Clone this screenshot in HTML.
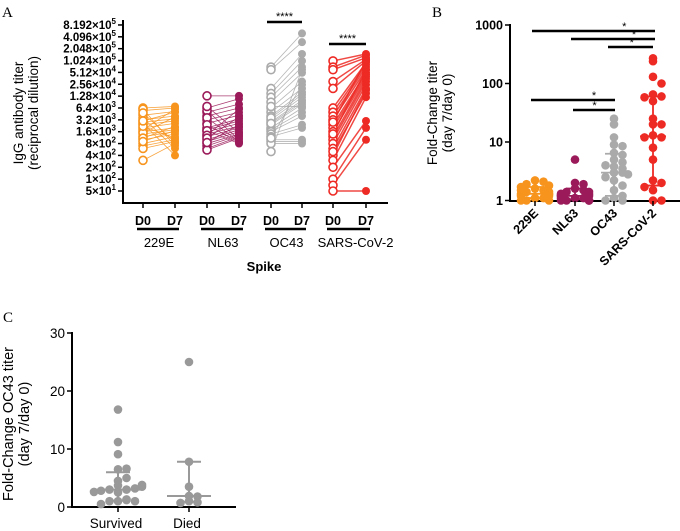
<!DOCTYPE html>
<html><head><meta charset="utf-8"><style>
html,body{margin:0;padding:0;background:#fff;}
svg{display:block;font-family:"Liberation Sans",Arial,sans-serif;}
</style></head><body>
<svg id="fig" width="680" height="531" viewBox="0 0 680 531">
<text x="2" y="17" font-family="Liberation Serif" font-size="15">A</text>
<text x="432" y="17" font-family="Liberation Serif" font-size="15">B</text>
<text x="3" y="322" font-family="Liberation Serif" font-size="15">C</text>
<g id="A"></g>
<g id="B"></g>
<g id="C"></g>
</svg>
<script>
// ---------- Panel A data ----------
const aGroups = ["229E","NL63","OC43","SARS-CoV-2"];
const aTickExp = ["8.192","4.096","2.048","1.024","5.12","2.56","1.28","6.4","3.2","1.6","8","4","2","1","5"];
const aTickPow = ["5","5","5","5","4","4","4","3","3","3","2","2","2","2","1"];
const a229eD0 = [6400,5500,4200,3200,2800,2400,2000,1600,1400,1200,1000,800,700,600,300,6000,3600,2600,1800,1500,1100,900,2200,4800,3000];
const a229eD7 = [7000,6400,5200,4000,3400,3000,2600,2000,1800,1600,1400,1200,1000,900,800,700,600,400,6000,3800,2200,1700,1100,850,5000];
const aNl63D0 = [13000,6400,5000,4000,3200,2600,2000,1800,1600,1400,1200,1000,900,800,700,600,550,5500,3600,2400,1700,1300,1100,850,7000];
const aNl63D7 = [13000,11000,8000,6400,5000,4200,3400,3000,2600,2200,2000,1800,1600,1400,1300,1200,1100,1000,900,850,800,6000,3800,2400,1500];
const aOc43D0 = [70000,60000,20000,15000,12000,9000,6400,5000,4000,3200,2800,2400,2000,1800,1600,1400,1200,1000,900,800,500,3600,2600,7000,1100];
const aOc43D7 = [500000,300000,150000,100000,70000,50000,30000,20000,16000,12000,10000,8000,6400,5000,4000,2400,2000,1000,900,800,60000,14000,9000,7000,25000];
const aSarsD0 = [100000,70000,60000,30000,20000,6400,5000,4000,3200,2400,2000,1600,1200,1000,800,600,400,300,200,100,70,50,2800,1400,500];
const aSarsD7 = [150000,140000,120000,110000,100000,90000,80000,70000,60000,50000,45000,40000,35000,30000,25000,20000,18000,12000,3000,2000,1000,50,100000,60000,15000];
const aD0 = [a229eD0,aNl63D0,aOc43D0,aSarsD0];
const aD7 = [a229eD7,aNl63D7,aOc43D7,aSarsD7];
// ---------- Panel B data ----------
const bGroups = ["229E","NL63","OC43","SARS-CoV-2"];
const bTicks = [1,10,100,1000];
const b229e = [2.2,2.1,1.9,1.8,1.7,1.6,1.5,1.4,1.4,1.3,1.3,1.2,1.2,1.1,1.1,1.0,1.0,1.0,1.5,1.3];
const bNl63 = [5.0,2.0,1.9,1.6,1.5,1.4,1.3,1.3,1.2,1.2,1.1,1.1,1.0,1.0,1.0,1.0,1.4,1.2,1.1,1.0];
const bOc43 = [25,20,12,9,8.5,6.5,6,5,4.5,3.8,3.5,3,3,2.5,2.2,1.8,1.5,1.2,1.1,1.0,1.0,4,2.8];
const bSars = [270,240,130,100,65,60,58,50,25,20,20,13,12,12,8,5,2.2,2,1.7,1.5,1,1];
const bMedian = [1.3,1.2,3.0,12.5];
const bQ1 = [1.1,1.05,1.2,1.8];
const bQ3 = [1.7,1.6,6.3,60];
// ---------- Panel C data ----------
const cGroups = ["Survived","Died"];
const cTicks = [0,10,20,30];
const cSurvived = [16.8,11.2,9.1,6.5,6.6,4.5,5,3.7,3,3,3.2,2.5,2.8,3.5,2.6,3.8,1,1.2,1.3,1,1,0.5];
const cDied = [25,7.8,3.5,1.9,1.8,1,0.8,0.7];
const cMedian = [3.0,1.9];
const cQ1 = [1.1,0.9];
const cQ3 = [6.0,7.8];

const NS="http://www.w3.org/2000/svg";
function mk(parent,tag,attrs,txt){const e=document.createElementNS(NS,tag);for(const k in attrs)e.setAttribute(k,attrs[k]);if(txt!=null)e.textContent=txt;parent.appendChild(e);return e;}
const colors=["#f7941d","#9b1b5a","#aaaaaa","#ee2a24"];

// ===== Panel A =====
(function(){
const g=document.getElementById('A');
const yA=v=>191-Math.log2(v/50)*11.86;
const xs=[[143,175],[207,239],[271,302],[333,366]];
let ax=mk(g,'path',{d:'M123,20V203H388',fill:'none',stroke:'#000','stroke-width':2});


for(let i=0;i<aTickExp.length;i++){
 const v=50*Math.pow(2,14-i); const y=yA(v);
 const t=mk(g,'line',{x1:118,x2:123,y1:y,y2:y,stroke:'#000','stroke-width':1.5});
 
 
 const tx=mk(g,'text',{x:116,y:y+4,'text-anchor':'end','font-size':11.5,'font-weight':'bold'});
 
 
 const a=document.createElementNS(NS,'tspan');a.textContent=aTickExp[i]+"×10";tx.appendChild(a);
 const b=document.createElementNS(NS,'tspan');b.setAttribute('dy','-5');b.setAttribute('font-size','8');b.textContent=aTickPow[i];tx.appendChild(b);
}
for(let gi=0;gi<4;gi++){
 const c=colors[gi];const[x0,x1]=xs[gi];
 const sg=mk(g,'g',{});
 
 
 for(let i=0;i<aD0[gi].length;i++){
  const l=mk(sg,'line',{x1:x0,y1:yA(aD0[gi][i]),x2:x1,y2:yA(aD7[gi][i]),stroke:c,'stroke-width':gi==3?1.5:0.8,opacity:0.85});
  
  
 }
 for(let i=0;i<aD0[gi].length;i++){
  const p=mk(sg,'circle',{cx:x0,cy:yA(aD0[gi][i]),r:4,fill:'#fff',stroke:c,'stroke-width':1.6});
  
  
  const q=mk(sg,'circle',{cx:x1,cy:yA(aD7[gi][i]),r:4,fill:c});
  
  
 }
 const t0=mk(g,'line',{x1:x0,x2:x0,y1:203,y2:208,stroke:'#000','stroke-width':1.5});
 const t1=mk(g,'line',{x1:x1,x2:x1,y1:203,y2:208,stroke:'#000','stroke-width':1.5});
 const d0=mk(g,'text',{x:x0,y:225,'text-anchor':'middle','font-size':12.5,'font-weight':'bold'},'D0');
 const d7=mk(g,'text',{x:x1,y:225,'text-anchor':'middle','font-size':12.5,'font-weight':'bold'},'D7');
 const ul=mk(g,'line',{x1:x0-6,x2:x1+4,y1:229,y2:229,stroke:'#000','stroke-width':2.5});
 const gn=mk(g,'text',{x:(x0+x1)/2+(gi==3?6:0),y:247,'text-anchor':'middle','font-size':13},aGroups[gi]);
}
[[2,22],[3,44]].forEach(([gi,y])=>{
 const[x0,x1]=xs[gi];
 const s=mk(g,'line',{x1:x0-4,x2:x1,y1:y,y2:y,stroke:'#000','stroke-width':2.5});
 const st=mk(g,'text',{x:(x0+x1)/2-2,y:y-2,'text-anchor':'middle','font-size':11},'****');
});
const sp=mk(g,'text',{x:264,y:271,'text-anchor':'middle','font-size':13,'font-weight':'bold'},'Spike');
const yt=mk(g,'text',{transform:'translate(23,113) rotate(-90)','text-anchor':'middle','font-size':13.5},'IgG antibody titer');
const yt2=mk(g,'text',{transform:'translate(38,113) rotate(-90)','text-anchor':'middle','font-size':13.5},'(reciprocal dilution)');
})();

// jitter helper: spread points with similar values
function jitter(vals,scale,width){
 const out=[];const used={};
 vals.forEach((v,i)=>{const k=Math.round(scale(v)/8);used[k]=(used[k]||0)+1;const n=used[k]-1;const off=(n%2?1:-1)*Math.ceil(n/2)*8.5;out.push(Math.max(-width,Math.min(width,off)));});
 return out;
}

// ===== Panel B =====
(function(){
const g=document.getElementById('B');
const yB=v=>200.5-Math.log10(v)*58.5;
const xs=[535,575,614,653];
const data=[b229e,bNl63,bOc43,bSars];
const ax=mk(g,'path',{d:'M510,24V201H680',fill:'none',stroke:'#000','stroke-width':2});
bTicks.forEach(v=>{const y=yB(v);
 const t=mk(g,'line',{x1:505,x2:510,y1:y,y2:y,stroke:'#000','stroke-width':1.5});
 const tx=mk(g,'text',{x:503,y:y+4.5,'text-anchor':'end','font-size':12.5,'font-weight':'bold'},String(v));
});
for(let gi=0;gi<4;gi++){
 const x=xs[gi],c=colors[gi];
 const sg=mk(g,'g',{});
 const off=jitter(data[gi],yB,14);
 data[gi].forEach((v,i)=>{const p=mk(sg,'circle',{cx:x+off[i],cy:yB(v),r:4.3,fill:c});});
 const w=mk(sg,'path',{d:`M${x},${yB(bQ1[gi])}V${yB(bQ3[gi])}M${x-9},${yB(bQ1[gi])}H${x+9}M${x-9},${yB(bQ3[gi])}H${x+9}M${x-13},${yB(bMedian[gi])}H${x+13}`,stroke:c,'stroke-width':1.8,fill:'none'});
 
 const t=mk(g,'line',{x1:x,x2:x,y1:201,y2:206,stroke:'#000','stroke-width':1.5});
 const lb=mk(g,'text',{transform:`translate(${x+4},${214}) rotate(-45)`,'text-anchor':'end','font-size':12.5,'font-weight':'bold'},bGroups[gi]);
}
[[532,655,31],[571,655,39],[608,653,47],[531,615,100],[573,615,110]].forEach(([x0,x1,y])=>{
 const s=mk(g,'line',{x1:x0,x2:x1,y1:y,y2:y,stroke:'#000','stroke-width':2.5});
 const st=mk(g,'text',{x:x0+(x1-x0)*0.75+(x1-x0<60?-10:0),y:y-1,'text-anchor':'middle','font-size':11},'*');
});
const yt=mk(g,'text',{transform:'translate(437,113) rotate(-90)','text-anchor':'middle','font-size':13.5},'Fold-Change titer');
const yt2=mk(g,'text',{transform:'translate(452,113) rotate(-90)','text-anchor':'middle','font-size':13.5},'(day 7/day 0)');
})();

// ===== Panel C =====
(function(){
const g=document.getElementById('C');
const yC=v=>507-v*5.8;
const xs=[118,189];
const data=[cSurvived,cDied];
const ax=mk(g,'path',{d:'M72,332V507H236',fill:'none',stroke:'#000','stroke-width':2});
cTicks.forEach(v=>{const y=yC(v);
 const t=mk(g,'line',{x1:67,x2:72,y1:y,y2:y,stroke:'#000','stroke-width':1.5});
 const tx=mk(g,'text',{x:65,y:y+5,'text-anchor':'end','font-size':13.5},String(v));
});
for(let gi=0;gi<2;gi++){
 const x=xs[gi],c='#999999';
 const sg=mk(g,'g',{});
 const off=jitter(data[gi],yC,24);
 data[gi].forEach((v,i)=>{const p=mk(sg,'circle',{cx:x+off[i],cy:yC(v),r:4.3,fill:c});});
 const w=mk(sg,'path',{d:`M${x},${yC(cQ1[gi])}V${yC(cQ3[gi])}M${x-12},${yC(cQ1[gi])}H${x+12}M${x-12},${yC(cQ3[gi])}H${x+12}M${x-22},${yC(cMedian[gi])}H${x+22}`,stroke:c,'stroke-width':2,fill:'none'});
 
 const t=mk(g,'line',{x1:x,x2:x,y1:507,y2:512,stroke:'#000','stroke-width':1.5});
 const lb=mk(g,'text',{x:x-2,y:528,'text-anchor':'middle','font-size':13.5},cGroups[gi]);
}
const yt=mk(g,'text',{transform:'translate(13,424) rotate(-90)','text-anchor':'middle','font-size':14.5},'Fold-Change OC43 titer');
const yt2=mk(g,'text',{transform:'translate(29,424) rotate(-90)','text-anchor':'middle','font-size':14.5},'(day 7/day 0)');
})();
</script>
</body></html>
